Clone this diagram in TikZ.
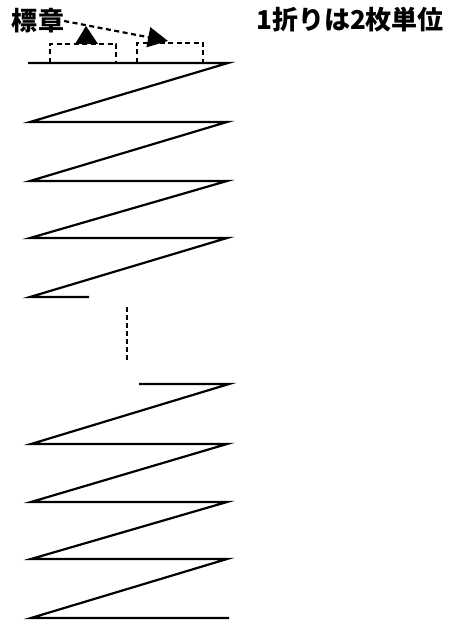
\documentclass[tikz,border=0pt]{standalone}
\usepackage{fontspec}
\newfontfamily\jpfont{Noto Sans CJK JP}
\usepackage{tikz}
\usetikzlibrary{arrows.meta}

\tikzset{
  fold/.style={line width=2.2pt, line join=miter},
  guide/.style={line width=2.2pt, dash pattern=on 5pt off 3.5pt},
  caption/.style={font=\jpfont\bfseries, inner sep=0pt}
}

\begin{document}
\begin{tikzpicture}[x=1pt, y=-1pt]
\useasboundingbox (0,0) rectangle (451,623);

% Labels
\node[caption, font=\jpfont\bfseries\fontsize{26}{26}\selectfont] (emblem) at (38,21) {標章};
\node[caption, font=\jpfont\bfseries\fontsize{26}{26}\selectfont] (unit) at (350,20) {1折りは2枚単位};

% Emblem sheets (dashed)
\draw[guide] (50,63) -- (50,44) -- (116,44) -- (116,63);
\draw[guide] (137,63) -- (137,43) -- (203,43) -- (203,63);

% Pointers from the label
\coordinate (sheetA) at (86,44);
\coordinate (tipA) at (86,26);
\coordinate (tipB) at (168,41);
\draw[guide, -{Triangle[length=20pt, width=20pt]}] (emblem.east) -- (tipB);
\fill (75,44) -- (tipA) -- (98,44) -- cycle;

% Upper fan-fold
\draw[fold] (28,63) -- (228,63) -- (30,122) -- (227,122) -- (30,181)
  -- (227,181) -- (30,238) -- (227,238) -- (30,297) -- (89,297);

% Omitted part
\draw[guide, dash pattern=on 5pt off 3pt] (127,307) -- (127,362);

% Lower fan-fold
\draw[fold] (139,384) -- (229,384) -- (31,444) -- (227,444) -- (31,502)
  -- (227,502) -- (31,559) -- (227,559) -- (31,618) -- (229,618);

\end{tikzpicture}
\end{document}
